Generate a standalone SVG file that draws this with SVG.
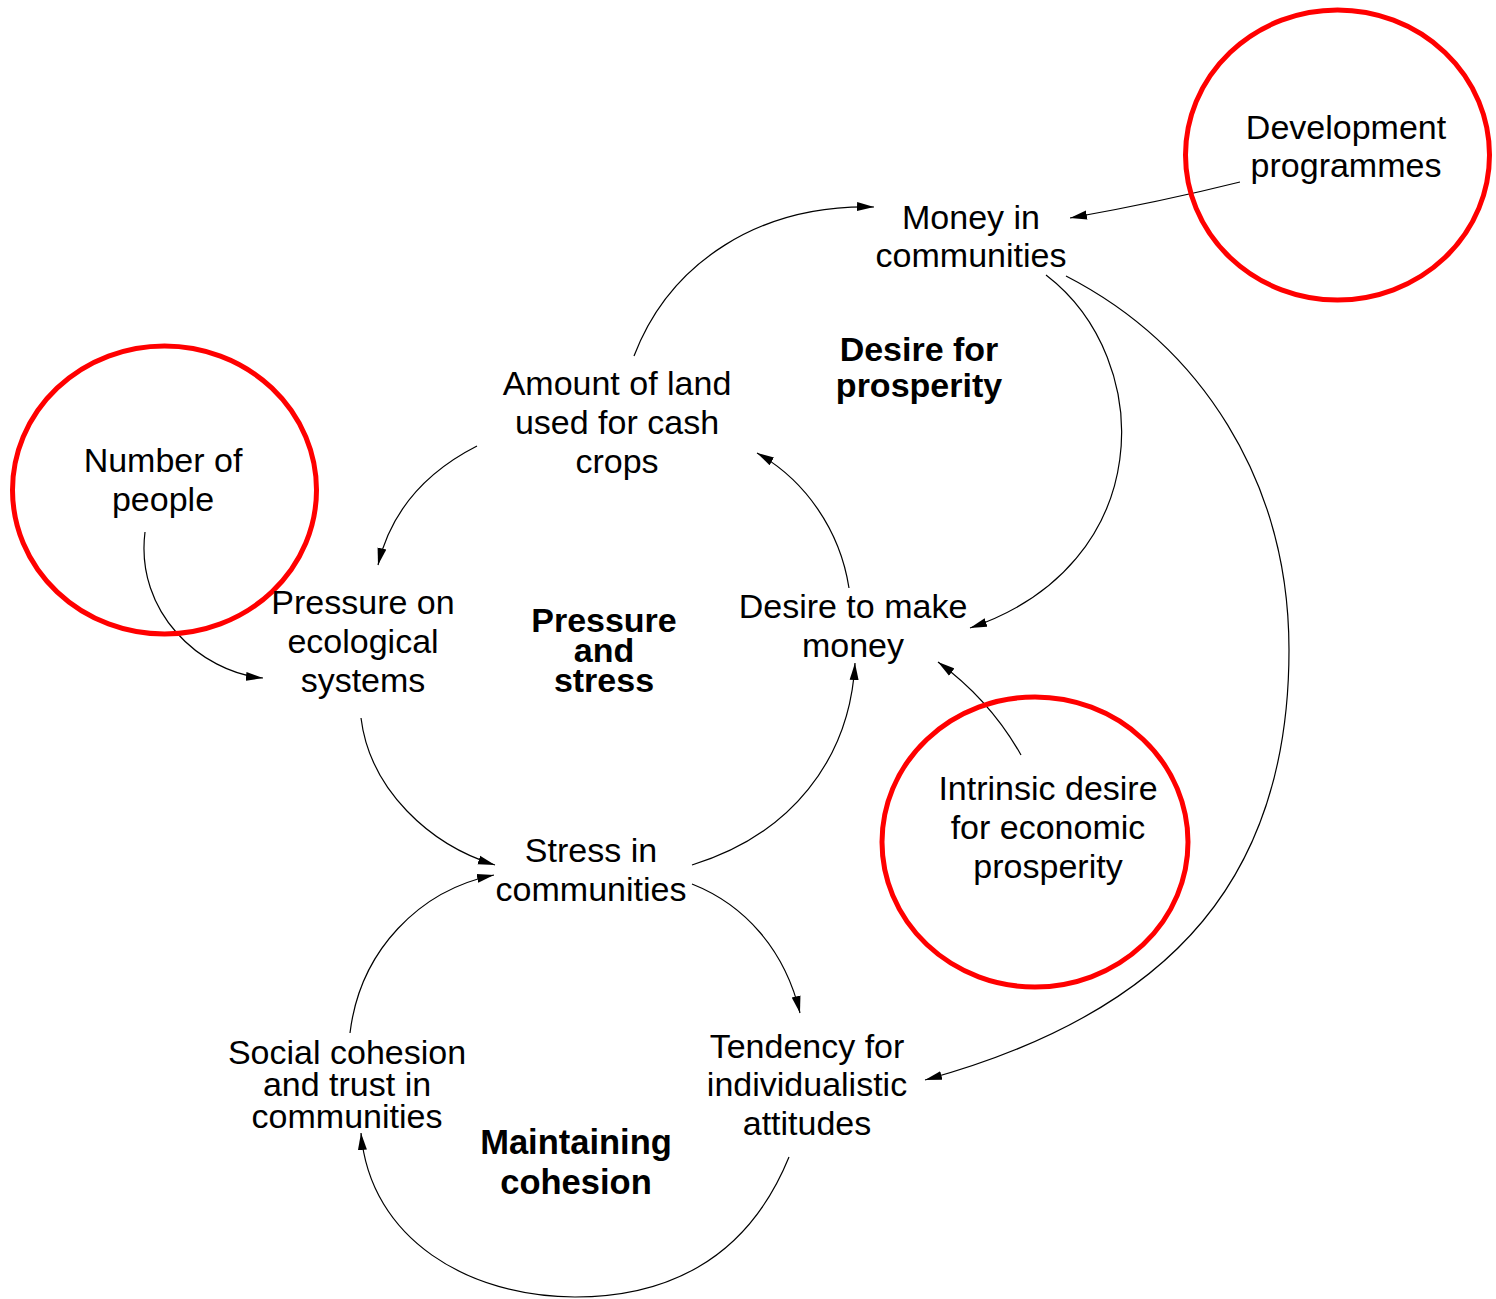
<svg xmlns="http://www.w3.org/2000/svg" width="1496" height="1299" viewBox="0 0 1496 1299">
<defs>
<style>
.t{font-family:"Liberation Sans",Arial,sans-serif;font-size:34px;fill:#000;text-anchor:middle}
.b{font-weight:bold}
.c{fill:none;stroke:#000;stroke-width:1.2}
.r{fill:none;stroke:#f00;stroke-width:5}
</style>
<marker id="ah" markerUnits="userSpaceOnUse" markerWidth="18" markerHeight="10" viewBox="0 -5 18 10" refX="17" refY="0" orient="auto">
<path d="M0,-4.5 L17,0 L0,4.5 z" fill="#000"/>
</marker>
</defs>
<rect width="1496" height="1299" fill="#fff"/>
<g id="connectors">
<path class="c" marker-end="url(#ah)" d="M634,356 C670,262 760,204 874,207"/>
<path class="c" marker-end="url(#ah)" d="M1240,182 Q1160,202 1070,218"/>
<path class="c" marker-end="url(#ah)" d="M1046,275 C1157,360 1157,565 970,628"/>
<path class="c" marker-end="url(#ah)" d="M1066,276 C1200,345 1289,480 1289,650 C1289,870 1180,1010 925,1080"/>
<path class="c" marker-end="url(#ah)" d="M477,446 C420,475 390,515 378,565"/>
<path class="c" marker-end="url(#ah)" d="M849,588 C840,530 805,480 757,453"/>
<path class="c" marker-end="url(#ah)" d="M145,532 C135,612 200,672 263,678"/>
<path class="c" marker-end="url(#ah)" d="M361,718 C370,790 430,845 495,865"/>
<path class="c" marker-end="url(#ah)" d="M692,865 C790,835 850,760 855,663"/>
<path class="c" marker-end="url(#ah)" d="M1021,755 Q990,700 938,662"/>
<path class="c" marker-end="url(#ah)" d="M692,884 C745,905 785,950 800,1013"/>
<path class="c" marker-end="url(#ah)" d="M350,1033 C360,950 420,890 494,875"/>
<path class="c" marker-end="url(#ah)" d="M789,1157 C745,1265 660,1297 575,1297 C470,1297 370,1240 361,1133"/>
</g>
<g id="money">
<text class="t" x="971" y="229">Money in</text>
<text class="t" x="971" y="267">communities</text>
</g>
<g id="development">
<ellipse class="r" cx="1337.5" cy="155" rx="152" ry="145"/>
<text class="t" x="1346" y="139">Development</text>
<text class="t" x="1346" y="177">programmes</text>
</g>
<g id="land">
<text class="t" x="617" y="395">Amount of land</text>
<text class="t" x="617" y="434">used for cash</text>
<text class="t" x="617" y="473">crops</text>
</g>
<g id="desire-prosperity">
<text class="t b" x="919" y="361">Desire for</text>
<text class="t b" x="919" y="397">prosperity</text>
</g>
<g id="people">
<ellipse class="r" cx="164.5" cy="490" rx="152" ry="144"/>
<text class="t" x="163" y="472">Number of</text>
<text class="t" x="163" y="511">people</text>
</g>
<g id="pressure">
<text class="t" x="363" y="614">Pressure on</text>
<text class="t" x="363" y="653">ecological</text>
<text class="t" x="363" y="692">systems</text>
</g>
<g id="pressure-stress">
<text class="t b" x="604" y="632">Pressure</text>
<text class="t b" x="604" y="662">and</text>
<text class="t b" x="604" y="692">stress</text>
</g>
<g id="desire-money">
<text class="t" x="853" y="618">Desire to make</text>
<text class="t" x="853" y="657">money</text>
</g>
<g id="intrinsic">
<ellipse class="r" cx="1035" cy="842" rx="153" ry="145"/>
<text class="t" x="1048" y="800">Intrinsic desire</text>
<text class="t" x="1048" y="839">for economic</text>
<text class="t" x="1048" y="878">prosperity</text>
</g>
<g id="stress">
<text class="t" x="591" y="862">Stress in</text>
<text class="t" x="591" y="901">communities</text>
</g>
<g id="social">
<text class="t" x="347" y="1064">Social cohesion</text>
<text class="t" x="347" y="1096">and trust in</text>
<text class="t" x="347" y="1128">communities</text>
</g>
<g id="tendency">
<text class="t" x="807" y="1058">Tendency for</text>
<text class="t" x="807" y="1096">individualistic</text>
<text class="t" x="807" y="1135">attitudes</text>
</g>
<g id="maintaining">
<text class="t b" x="576" y="1154" style="font-size:34.5px">Maintaining</text>
<text class="t b" x="576" y="1194" style="font-size:34.5px">cohesion</text>
</g>
</svg>
